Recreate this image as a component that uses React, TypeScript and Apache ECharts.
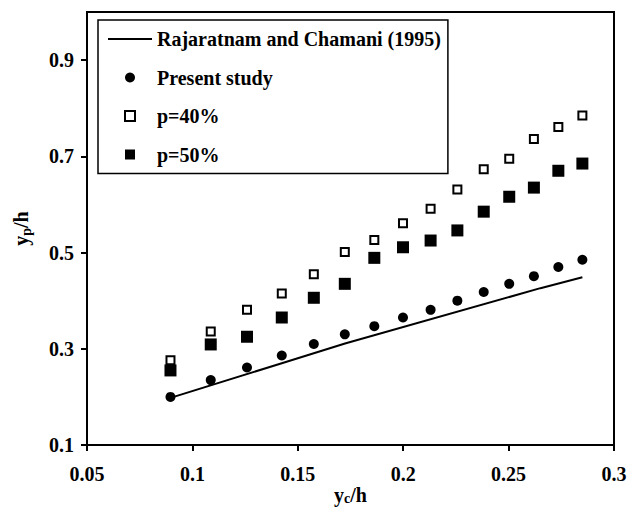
import React, { useEffect, useRef } from "react";
import * as echarts from "echarts";

const xValues = [0.0896, 0.1087, 0.1259, 0.1424, 0.1576, 0.1723, 0.1863, 0.1999, 0.213, 0.2257, 0.2382, 0.2503, 0.262, 0.2736, 0.285];
const presentStudy = [0.2, 0.235, 0.261, 0.286, 0.31, 0.33, 0.347, 0.365, 0.381, 0.4, 0.418, 0.435, 0.451, 0.47, 0.485];
const p40 = [0.276, 0.336, 0.381, 0.415, 0.455, 0.501, 0.526, 0.561, 0.591, 0.631, 0.673, 0.695, 0.736, 0.761, 0.785];
const p50 = [0.255, 0.309, 0.325, 0.365, 0.406, 0.435, 0.489, 0.511, 0.525, 0.546, 0.585, 0.616, 0.635, 0.67, 0.685];
const rcLineX = [0.0896, 0.1424, 0.1724, 0.2651, 0.285];
const rcLineY = [0.198, 0.27, 0.311, 0.426, 0.4486];
const yTickValues = [0.1, 0.3, 0.5, 0.7, 0.9];

const FONT = "'Liberation Serif', 'Times New Roman', serif";
const SQUARE_ICON = "path://M0,0h10v10h-10z";
const LINE_ICON = "path://M0,0h44v2h-44z";

export default function App() {
  const ref = useRef<HTMLDivElement>(null);
  useEffect(() => {
    if (!ref.current) return;
    const chart = echarts.init(ref.current, undefined, { renderer: "svg" });
    const pair = (ys: number[]) => ys.map((y, i) => [xValues[i], y]);
    const textBase = { fontFamily: FONT, fontWeight: "bold" as const, fontSize: 20, color: "#000" };
    chart.setOption({
      animation: false,
      backgroundColor: "#fff",
      grid: {
        left: 87,
        right: 13,
        top: 12,
        bottom: 63,
        outerBoundsMode: "none",
        containLabel: false,
        show: true,
        borderColor: "#000",
        borderWidth: 2,
        backgroundColor: "transparent",
      },
      legend: {
        orient: "vertical",
        left: 98,
        top: 20,
        padding: [9, 7, 9, 10],
        itemGap: 18.5,
        itemWidth: 44,
        itemHeight: 10,
        itemTextGap: 6,
        symbolKeepAspect: true,
        borderColor: "#000",
        borderWidth: 1.5,
        backgroundColor: "#fff",
        textStyle: textBase,
        data: [
          { name: "Rajaratnam and Chamani (1995)", icon: LINE_ICON, itemStyle: { color: "#000", borderWidth: 0 } },
          { name: "Present study", icon: "circle", itemStyle: { color: "#000", opacity: 1 } },
          { name: "p=40%", icon: SQUARE_ICON, itemStyle: { color: "#fff", borderColor: "#000", borderWidth: 2, opacity: 1 } },
          { name: "p=50%", icon: SQUARE_ICON, itemStyle: { color: "#000", opacity: 1 } },
        ],
      },
      xAxis: {
        type: "value",
        min: 0.05,
        max: 0.3,
        interval: 0.05,
        splitLine: { show: false },
        axisLine: { lineStyle: { color: "#000", width: 2 } },
        axisTick: { inside: false, length: 6, lineStyle: { color: "#000", width: 2 } },
        axisLabel: { ...textBase, margin: 19 },
        name: "{a|y}{b|c}{a|/h}",
        nameLocation: "middle",
        nameGap: 40,
        nameMoveOverlap: false,
        nameTextStyle: {
          verticalAlign: "top",
          rich: {
            a: { ...textBase, lineHeight: 20 },
            b: { ...textBase, fontSize: 14, lineHeight: 20, verticalAlign: "bottom", padding: [6, 0, 0, 0] },
          },
        },
      },
      yAxis: {
        type: "value",
        min: 0.1,
        max: 1.0,
        splitLine: { show: false },
        axisLine: { lineStyle: { color: "#000", width: 2 } },
        axisTick: { inside: false, length: 6, customValues: yTickValues, lineStyle: { color: "#000", width: 2 } },
        axisLabel: { ...textBase, margin: 13, customValues: yTickValues },
        name: "{a|y}{b|p}{a|/h}",
        nameLocation: "middle",
        nameGap: 54,
        nameRotate: 90,
        nameTextStyle: {
          rich: {
            a: { ...textBase },
            b: { ...textBase, fontSize: 14, verticalAlign: "bottom", padding: [10, 0, 0, 0] },
          },
        },
      },
      series: [
        {
          name: "Rajaratnam and Chamani (1995)",
          type: "line",
          data: rcLineX.map((x, i) => [x, rcLineY[i]]),
          symbol: "none",
          showSymbol: false,
          lineStyle: { color: "#000", width: 2 },
          itemStyle: { color: "#000" },
          z: 1,
        },
        {
          name: "Present study",
          type: "scatter",
          data: pair(presentStudy),
          symbol: "circle",
          symbolSize: 10,
          itemStyle: { color: "#000", opacity: 1 },
          z: 2,
        },
        {
          name: "p=40%",
          type: "scatter",
          data: pair(p40),
          symbol: "rect",
          symbolSize: 8,
          itemStyle: { color: "#fff", borderColor: "#000", borderWidth: 2, opacity: 1 },
          z: 2,
        },
        {
          name: "p=50%",
          type: "scatter",
          data: pair(p50),
          symbol: "rect",
          symbolSize: 12,
          itemStyle: { color: "#000", opacity: 1 },
          z: 2,
        },
      ],
    });
    return () => chart.dispose();
  }, []);
  return <div ref={ref} style={{ width: 627, height: 508, position: "absolute", left: 0, top: 0 }} />;
}
